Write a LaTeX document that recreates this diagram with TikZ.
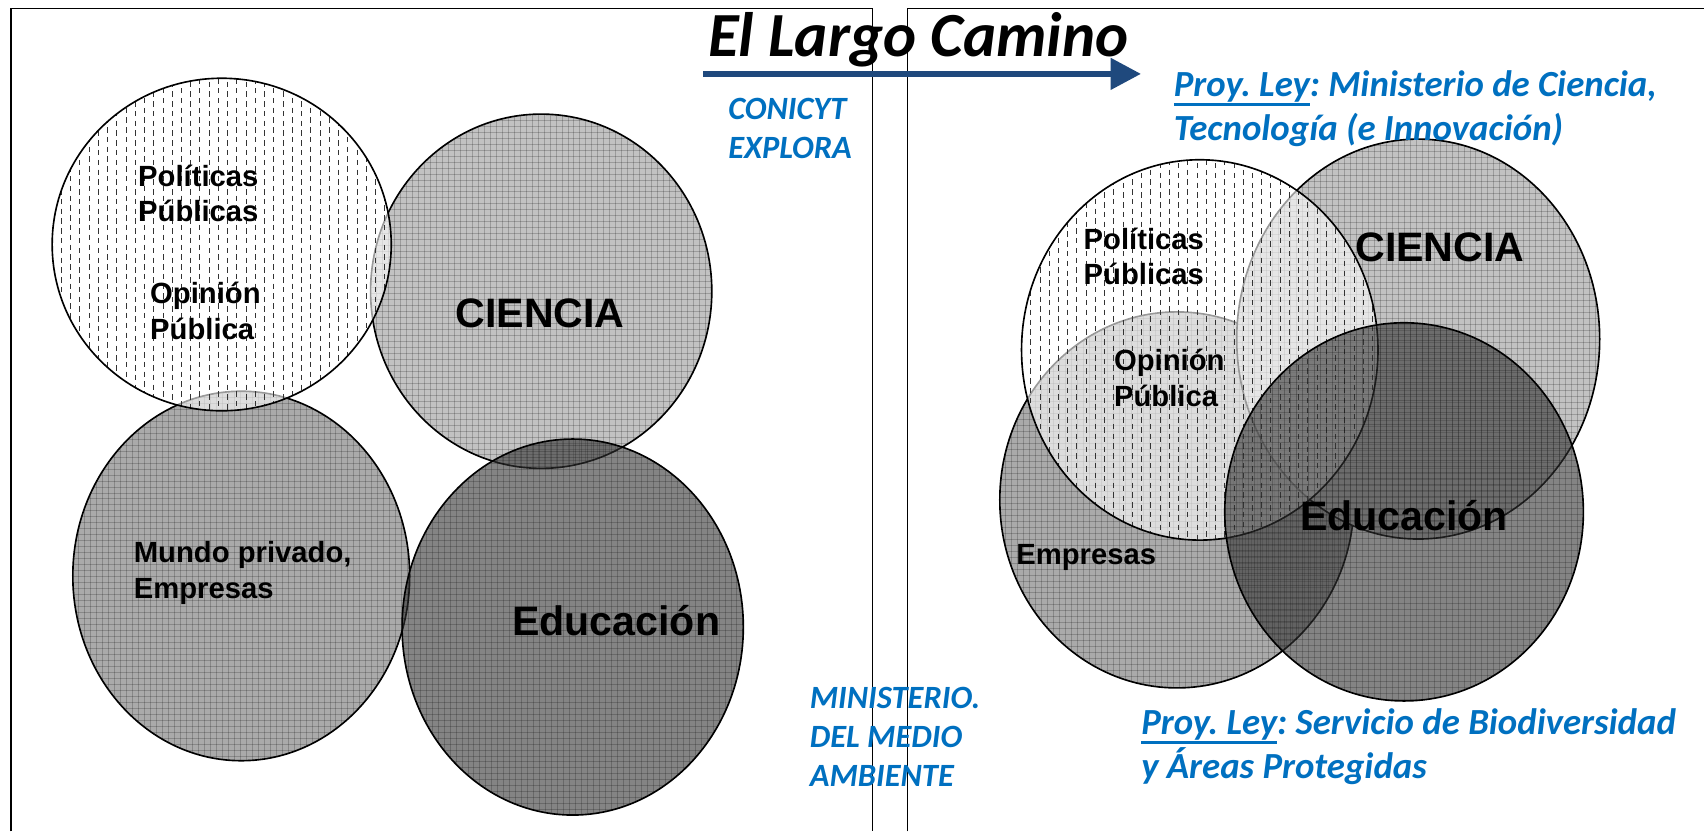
\documentclass[tikz,border=0pt]{standalone}
\usepackage{fontspec}
\setmainfont{Liberation Sans}
\newfontfamily\calfont{Carlito}
\usetikzlibrary{arrows.meta}
\definecolor{bluetxt}{HTML}{0070C0}
\definecolor{arrowblue}{HTML}{1F497D}
\definecolor{cienfill}{HTML}{C2C2C2}
\definecolor{empfill}{HTML}{AAAAAA}
\definecolor{edufill}{HTML}{333333}
\newcommand\thickul[1]{\leavevmode\setbox0\hbox{#1}\rlap{\vrule width\wd0 height -6.5pt depth 9pt}\box0}
\frenchspacing

\tikzset{
  boxline/.style={draw=black, line width=1.4bp},
  outline/.style={draw=black, line width=1.5bp},
  gridtex/.style={draw=black, line width=0.6bp, opacity=0.2},
  poldash/.style={draw=black!80, line width=0.9bp, dash pattern=on 5bp off 4bp},
  lab/.style={font=\bfseries\fontsize{27}{33}\selectfont, inner sep=0pt, align=left},
  biglab/.style={font=\bfseries\fontsize{38}{44}\selectfont, inner sep=0pt},
  bluelab/.style={text=bluetxt, font=\calfont\bfseries\itshape\fontsize{30}{36}\selectfont, inner sep=0pt, align=left},
  bluebig/.style={text=bluetxt, font=\calfont\bfseries\itshape\fontsize{34}{41}\selectfont, inner sep=0pt, align=left},
  titlelab/.style={font=\calfont\bfseries\itshape\fontsize{58}{66}\selectfont, inner sep=0pt},
  roadarrow/.style={draw=arrowblue, line width=6bp, -{Triangle[length=28bp, width=28bp]}}
}

% #1 x, #2 y, #3 rx, #4 ry, #5 fill options
\newcommand\gblob[5]{%
  \fill[#5] (#1,#2) ellipse [x radius=#3, y radius=#4];
  \begin{scope}
    \clip (#1,#2) ellipse [x radius=#3, y radius=#4];
    \foreach \i in {0,...,70} {
      \pgfmathsetmacro\gx{#1-#3+\i*5.5}
      \pgfmathsetmacro\gy{#2-#4+\i*5.5}
      \draw[gridtex] (\gx,#2-#4) -- ++(0,2*#4);
      \draw[gridtex] (#1-#3,\gy) -- ++(2*#3,0);
    }
  \end{scope}
  \draw[outline] (#1,#2) ellipse [x radius=#3, y radius=#4];
}
\newcommand\dblob[4]{%
  \fill[white, opacity=0.6] (#1,#2) ellipse [x radius=#3, y radius=#4];
  \begin{scope}
    \clip (#1,#2) ellipse [x radius=#3, y radius=#4];
    \foreach \i in {0,...,40} {
      \pgfmathsetmacro\dx{#1-#3+\i*8.5}
      \pgfmathsetmacro\dy{#2-#4+3*mod(\i,2)}
      \draw[poldash] (\dx,\dy) -- ++(0,2*#4);
    }
  \end{scope}
  \draw[outline] (#1,#2) ellipse [x radius=#3, y radius=#4];
}

\begin{document}
\begin{tikzpicture}[x=1bp, y=-1bp]
\useasboundingbox (0,0) rectangle (1568,765);
\fill[white] (0,0) rectangle (1568,765);

% ---------- left panel ----------
\gblob{498}{268}{157}{163}{cienfill}
\gblob{222}{530}{155}{170}{empfill}
\dblob{204}{225}{156}{153}
\gblob{527}{577}{157}{173}{edufill, opacity=0.6}

% ---------- right panel ----------
\gblob{1083}{460}{163}{173}{empfill}
\gblob{1305}{312}{167}{184}{cienfill}
\dblob{1104}{322}{164}{175}
\gblob{1292}{471}{165}{174}{edufill, opacity=0.6}

% ---------- frames ----------
\draw[boxline] (10,765) -- (10,8) -- (803,8) -- (803,765);
\draw[boxline] (835,765) -- (835,8) -- (1568,8);

% ---------- circle labels ----------
\node[lab, anchor=west] (polL) at (127,178) {Políticas\\Públicas};
\node[lab, anchor=west] (opiL) at (138,286) {Opinión\\Pública};
\node[biglab] (cieL) at (497,288) {CIENCIA};
\node[lab, anchor=west] (munL) at (123,527) {Mundo privado,\\Empresas};
\node[biglab] (eduL) at (567,571) {Educación};

\node[lab, anchor=west] (polR) at (997,236) {Políticas\\Públicas};
\node[lab, anchor=west] (opiR) at (1025,348) {Opinión\\Pública};
\node[biglab] (cieR) at (1325,228) {CIENCIA};
\node[biglab] (eduR) at (1292,474) {Educación};
\node[lab, anchor=west] (empR) at (935,513) {Empresas};

% ---------- title and arrow ----------
\node[titlelab, anchor=base] (title) at (845,52) {El Largo Camino};
\coordinate (arrS) at (647,68);
\coordinate (arrE) at (1050,68);
\draw[roadarrow] (arrS) -- (arrE);

% ---------- blue notes ----------
\node[bluelab, anchor=west] (conicyt) at (670,118) {CONICYT\\EXPLORA};
\node[bluelab, anchor=west] (mma) at (745,678) {MINISTERIO.\\DEL MEDIO\\AMBIENTE};
\node[bluebig, anchor=west] (leyA) at (1080,100) {\thickul{Proy.\ Ley}: Ministerio de Ciencia,\\Tecnología (e Innovación)};
\node[bluebig, anchor=west] (leyB) at (1050,687) {\thickul{Proy.\ Ley}: Servicio de Biodiversidad\\y Áreas Protegidas};
\end{tikzpicture}
\end{document}
